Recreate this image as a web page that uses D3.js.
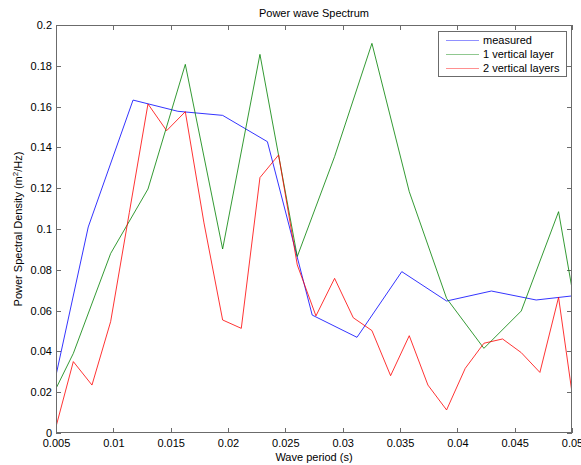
<!DOCTYPE html>
<html>
<head>
<meta charset="utf-8">
<script src="https://cdn.jsdelivr.net/npm/d3@7"></script>
<style>
  html, body { margin: 0; padding: 0; background: #fff; }
  svg { display: block; font-family: "Liberation Sans", Arial, sans-serif; }
</style>
</head>
<body>
<svg id="chart" width="581" height="465"></svg>
<script>
// Wave periods are sampled on three different grids (s)
const measuredStep = 1 / 256;
const oneLayerStep = 5 / 1536;
const twoLayerStep = 5 / 3072;

// Power spectral density values (m^2/Hz)
const measured = [0, 0.101, 0.1632, 0.1577, 0.1557, 0.1428, 0.0578, 0.0469,
  0.0791, 0.0647, 0.0696, 0.0652, 0.0677];            // k = 1..13
const oneLayer = [0.002, 0.039, 0.088, 0.1196, 0.1807, 0.0902, 0.1856, 0.0865,
  0.1355, 0.191, 0.1183, 0.066, 0.0415, 0.0598, 0.1085, 0.004]; // k = 1..16
const twoLayers = [0.0006, 0.035, 0.0235, 0.0546, 0.108, 0.1613, 0.1482, 0.1575,
  0.103, 0.0554, 0.0513, 0.1252, 0.1363, 0.0824, 0.0574, 0.0758, 0.0565,
  0.0502, 0.0281, 0.0477, 0.0235, 0.0113, 0.0317, 0.044, 0.0461, 0.0394,
  0.0297, 0.0665, 0.0016];                            // k = 3..31

const seriesNames = ["measured", "1 vertical layer", "2 vertical layers"];
const seriesColors = ["#0000ff", "#008000", "#ff0000"];

const xTicks = [0.005, 0.01, 0.015, 0.02, 0.025, 0.03, 0.035, 0.04, 0.045, 0.05];
const yTicks = [0, 0.02, 0.04, 0.06, 0.08, 0.1, 0.12, 0.14, 0.16, 0.18, 0.2];

const series = [
  measured.map((v, i) => ({ x: (i + 1) * measuredStep, y: v })),
  oneLayer.map((v, i) => ({ x: (i + 1) * oneLayerStep, y: v })),
  twoLayers.map((v, i) => ({ x: (i + 3) * twoLayerStep, y: v }))
];

const svg = d3.select("#chart");
const plotL = 56, plotR = 572, plotT = 25, plotB = 433;

const x = d3.scaleLinear().domain([0.005, 0.05]).range([plotL, plotR]);
const y = d3.scaleLinear().domain([0, 0.2]).range([plotB, plotT]);

svg.append("defs").append("clipPath").attr("id", "plotClip")
  .append("rect").attr("x", plotL).attr("y", plotT)
  .attr("width", plotR - plotL).attr("height", plotB - plotT);

const fmt = d => String(+d.toFixed(3));
const axisColor = "#6b6b6b";

function styleAxis(g) {
  g.select(".domain").remove();
  g.selectAll(".tick line").attr("stroke", axisColor);
  g.selectAll(".tick text").attr("fill", "#000").attr("font-size", 11);
}

svg.append("g").attr("transform", `translate(0,${plotB})`)
  .call(d3.axisBottom(x).tickValues(xTicks).tickFormat(fmt).tickSize(-5).tickPadding(6))
  .call(styleAxis);
svg.append("g").attr("transform", `translate(0,${plotT})`)
  .call(d3.axisTop(x).tickValues(xTicks).tickFormat("").tickSize(-5))
  .call(styleAxis);
svg.append("g").attr("transform", `translate(${plotL},0)`)
  .call(d3.axisLeft(y).tickValues(yTicks).tickFormat(fmt).tickSize(-5).tickPadding(4))
  .call(styleAxis);
svg.append("g").attr("transform", `translate(${plotR},0)`)
  .call(d3.axisRight(y).tickValues(yTicks).tickFormat("").tickSize(-5))
  .call(styleAxis);

svg.selectAll(".tick line").attr("shape-rendering", "crispEdges");
svg.selectAll("text").attr("font-family", "Liberation Sans, Arial, sans-serif");

// Spectra
const line = d3.line().x(d => x(d.x)).y(d => y(d.y));
svg.append("g").attr("clip-path", "url(#plotClip)")
  .selectAll("path").data(series).join("path")
  .attr("d", line)
  .attr("fill", "none")
  .attr("stroke", (d, i) => seriesColors[i])
  .attr("stroke-width", 0.8)
  .attr("stroke-linejoin", "miter");

// Axes box
svg.append("rect")
  .attr("x", plotL + 0.5).attr("y", plotT + 0.5)
  .attr("width", plotR - plotL - 1).attr("height", plotB - plotT - 1)
  .attr("fill", "none").attr("stroke", axisColor).attr("stroke-width", 1);

// Title and labels
svg.append("text").attr("x", (plotL + plotR) / 2).attr("y", 17)
  .attr("text-anchor", "middle").attr("font-size", 11).text("Power wave Spectrum");
svg.append("text").attr("x", (plotL + plotR) / 2).attr("y", 461)
  .attr("text-anchor", "middle").attr("font-size", 11).text("Wave period (s)");

const yl = svg.append("text")
  .attr("transform", `translate(22,${(plotT + plotB) / 2}) rotate(-90)`)
  .attr("text-anchor", "middle").attr("font-size", 11);
yl.append("tspan").text("Power Spectral Density (m");
yl.append("tspan").attr("font-size", 8).attr("dy", -4).text("2");
yl.append("tspan").attr("dy", 4).text("/Hz)");

// Legend
const legend = svg.append("g");
legend.append("rect").attr("x", 438.5).attr("y", 31.5).attr("width", 128).attr("height", 45)
  .attr("fill", "#fff").attr("stroke", axisColor);
seriesNames.forEach((name, i) => {
  const ly = 40 + i * 14;
  legend.append("line").attr("x1", 446).attr("x2", 479).attr("y1", ly + 0.5).attr("y2", ly + 0.5)
    .attr("stroke", seriesColors[i]).attr("stroke-width", 0.8).attr("stroke-opacity", 0.55);
  legend.append("text").attr("x", 483).attr("y", ly).attr("dy", "0.35em")
    .attr("font-size", 11).text(name);
});
</script>
</body>
</html>
